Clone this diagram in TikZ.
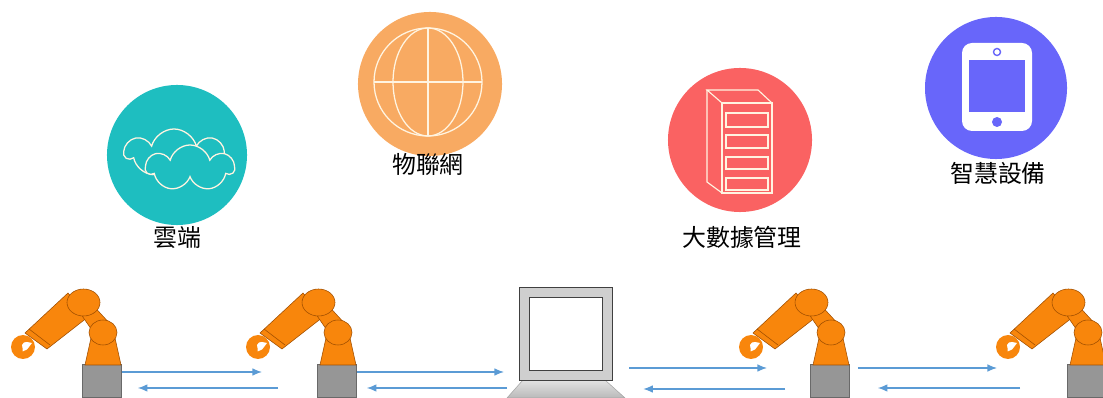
\documentclass[tikz,border=0pt]{standalone}
\usepackage{fontspec}
\newfontfamily\cjk{Noto Sans CJK TC}
\usetikzlibrary{arrows.meta,shapes.symbols}
\definecolor{cloudteal}{RGB}{30,190,192}
\definecolor{globeorange}{RGB}{248,170,98}
\definecolor{serverred}{RGB}{250,98,98}
\definecolor{phoneblue}{RGB}{104,102,250}
\definecolor{armorange}{RGB}{248,134,12}
\definecolor{armedge}{RGB}{160,78,0}
\definecolor{basegray}{RGB}{150,150,150}
\definecolor{flowblue}{RGB}{91,155,213}
\definecolor{iconline}{RGB}{255,244,225}

\tikzset{
	robot/.pic={
		% gripper
		\fill[armorange] (-79,-51) circle[radius=12];
		\fill[white] (-80,-53) -- (-78,-55.5) -- (-75,-56) -- (-70,-55)
		-- (-73,-51) -- (-75,-48.5) -- (-79.5,-46.5) -- (-79.5,-50) -- cycle;
		% upper arm
		\filldraw[arm] (-77,-65) -- (-34,-105) -- (-14,-81) -- (-55,-49) -- cycle;
		\draw[armedge,line width=0.4pt] (-73,-69) -- (-52,-53);
		% base and lower arm
		\node[base,anchor=south] (-base) at (0,0) {};
		\filldraw[arm] (-17,-33) -- (-11,-60) -- (13,-60) -- (19,-33) -- cycle;
		\filldraw[arm] (-13,-97) -- (-24,-88) -- (-6,-62) -- (10,-72) -- cycle;
		% joints
		\filldraw[arm] (1,-65.5) ellipse[x radius=14,y radius=12.5];
		\filldraw[arm] (-18.5,-95.5) ellipse[x radius=16.5,y radius=13.5];
	}
}

\begin{document}
\begin{tikzpicture}[
	x=0.025cm,y=-0.025cm,
	icon/.style={
		circle,
		minimum size=3.5cm,
		inner sep=0pt
	},
	iconlabel/.style={
		font=\cjk\fontsize{17}{20}\selectfont,
		inner sep=0pt
	},
	arm/.style={
		fill=armorange,
		draw=armedge,
		line width=0.4pt
	},
	base/.style={
		fill=basegray,
		draw=basegray!70!black,
		line width=0.4pt,
		minimum width=0.975cm,
		minimum height=0.825cm,
		inner sep=0pt
	},
	flow/.style={
		-{Latex[length=2.4mm,width=1.9mm]},
		line width=0.9pt,
		draw=flowblue
	},
	puff/.style={
		cloud,
		cloud puffs=7,
		draw=iconline,
		fill=cloudteal,
		line width=0.9pt,
		inner sep=0pt
	}
	]
	
	\useasboundingbox (0,0) rectangle (1103,398);
	
	% Cloud
	\node[icon,fill=cloudteal] (cloud) at (177,155) {};
	\node[puff,minimum width=2.45cm,minimum height=1.2cm] (puffback) at (174,153) {};
	\node[puff,minimum width=2.2cm,minimum height=1.15cm] (pufffront) at (190,168) {};
	\node[iconlabel] (cloudlbl) at (177,238) {雲端};
	
	% Internet of things
	\node[icon,minimum size=3.6cm,fill=globeorange] (globe) at (430,84) {};
	\begin{scope}[draw=iconline,line width=0.9pt]
		\draw (428,82) circle[radius=54];
		\draw (428,82) ellipse[x radius=35,y radius=54];
		\draw (428,28) -- (428,136);
		\draw (374,82) -- (482,82);
	\end{scope}
	\node[iconlabel] (globelbl) at (428,165) {物聯網};
	
	% Big data
	\node[icon,minimum size=3.6cm,fill=serverred] (server) at (740,140) {};
	\begin{scope}[draw=iconline,line width=0.8pt]
		\draw (722,103) rectangle (772,193);
		\draw (722,103) -- (707,90) -- (758,90) -- (772,103);
		\draw (707,90) -- (707,182) -- (722,193);
		\foreach \top/\bot in {113/127,135/148,157/169,178/190}
		\draw[line width=1.5pt] (726,\top) rectangle (768,\bot);
	\end{scope}
	\node[iconlabel] (serverlbl) at (742,237) {大數據管理};
	
	% Smart devices
	\node[icon,minimum size=3.55cm,fill=phoneblue] (phone) at (996,88) {};
	\fill[white,rounded corners=2.5mm] (962,43) rectangle (1032,131);
	\fill[phoneblue] (969,60) rectangle (1025,112);
	\draw[phoneblue,line width=1pt] (997,52) circle[radius=3.5];
	\fill[phoneblue] (997,122) circle[radius=5];
	\node[iconlabel] (phonelbl) at (998,173) {智慧設備};
	
	% Robots
	\pic (r1) at (102,398) {robot};
	\pic (r2) at (337,398) {robot};
	\pic (r4) at (830,398) {robot};
	\pic (r5) at (1087,398) {robot};
	
	% Computer
	\shade[top color=gray!22,bottom color=gray!55,draw=gray!70,line width=0.4pt]
	(523,380) -- (605,380) -- (625,398) -- (507,398) -- cycle;
	\node[fill=gray!38,draw=black!75,line width=0.6pt,minimum size=2.325cm,
	inner sep=0pt] (pc) at (565.5,333.5) {};
	\node[fill=white,draw=black!75,line width=0.6pt,minimum size=1.825cm,
	inner sep=0pt] (screen) at (pc.center) {};
	
	% Hand-over points
	\coordinate (in2) at (262,372);
	\coordinate (out2) at (278,388);
	\coordinate (inpc) at (504,372);
	\coordinate (outpc) at (507,388);
	\coordinate (in4) at (767,368);
	\coordinate (out4) at (785,389);
	\coordinate (in5) at (997,368);
	\coordinate (out5) at (1020,388);
	
	% Forward arrows
	\draw[flow] (r1-base.east |- in2) -- (in2);
	\draw[flow] (r2-base.east |- inpc) -- (inpc);
	\draw[flow] ([xshift=4.2mm]pc.east |- in4) -- (in4);
	\draw[flow] ([xshift=2mm]r4-base.east |- in5) -- (in5);
	
	% Return arrows
	\draw[flow] (out2) -- ([xshift=4mm]r1-base.east |- out2);
	\draw[flow] (outpc) -- ([xshift=2.5mm]r2-base.east |- outpc);
	\draw[flow] (out4) -- ([xshift=7.7mm]pc.east |- out4);
	\draw[flow] (out5) -- ([xshift=7mm]r4-base.east |- out5);
	
\end{tikzpicture}
\end{document}
